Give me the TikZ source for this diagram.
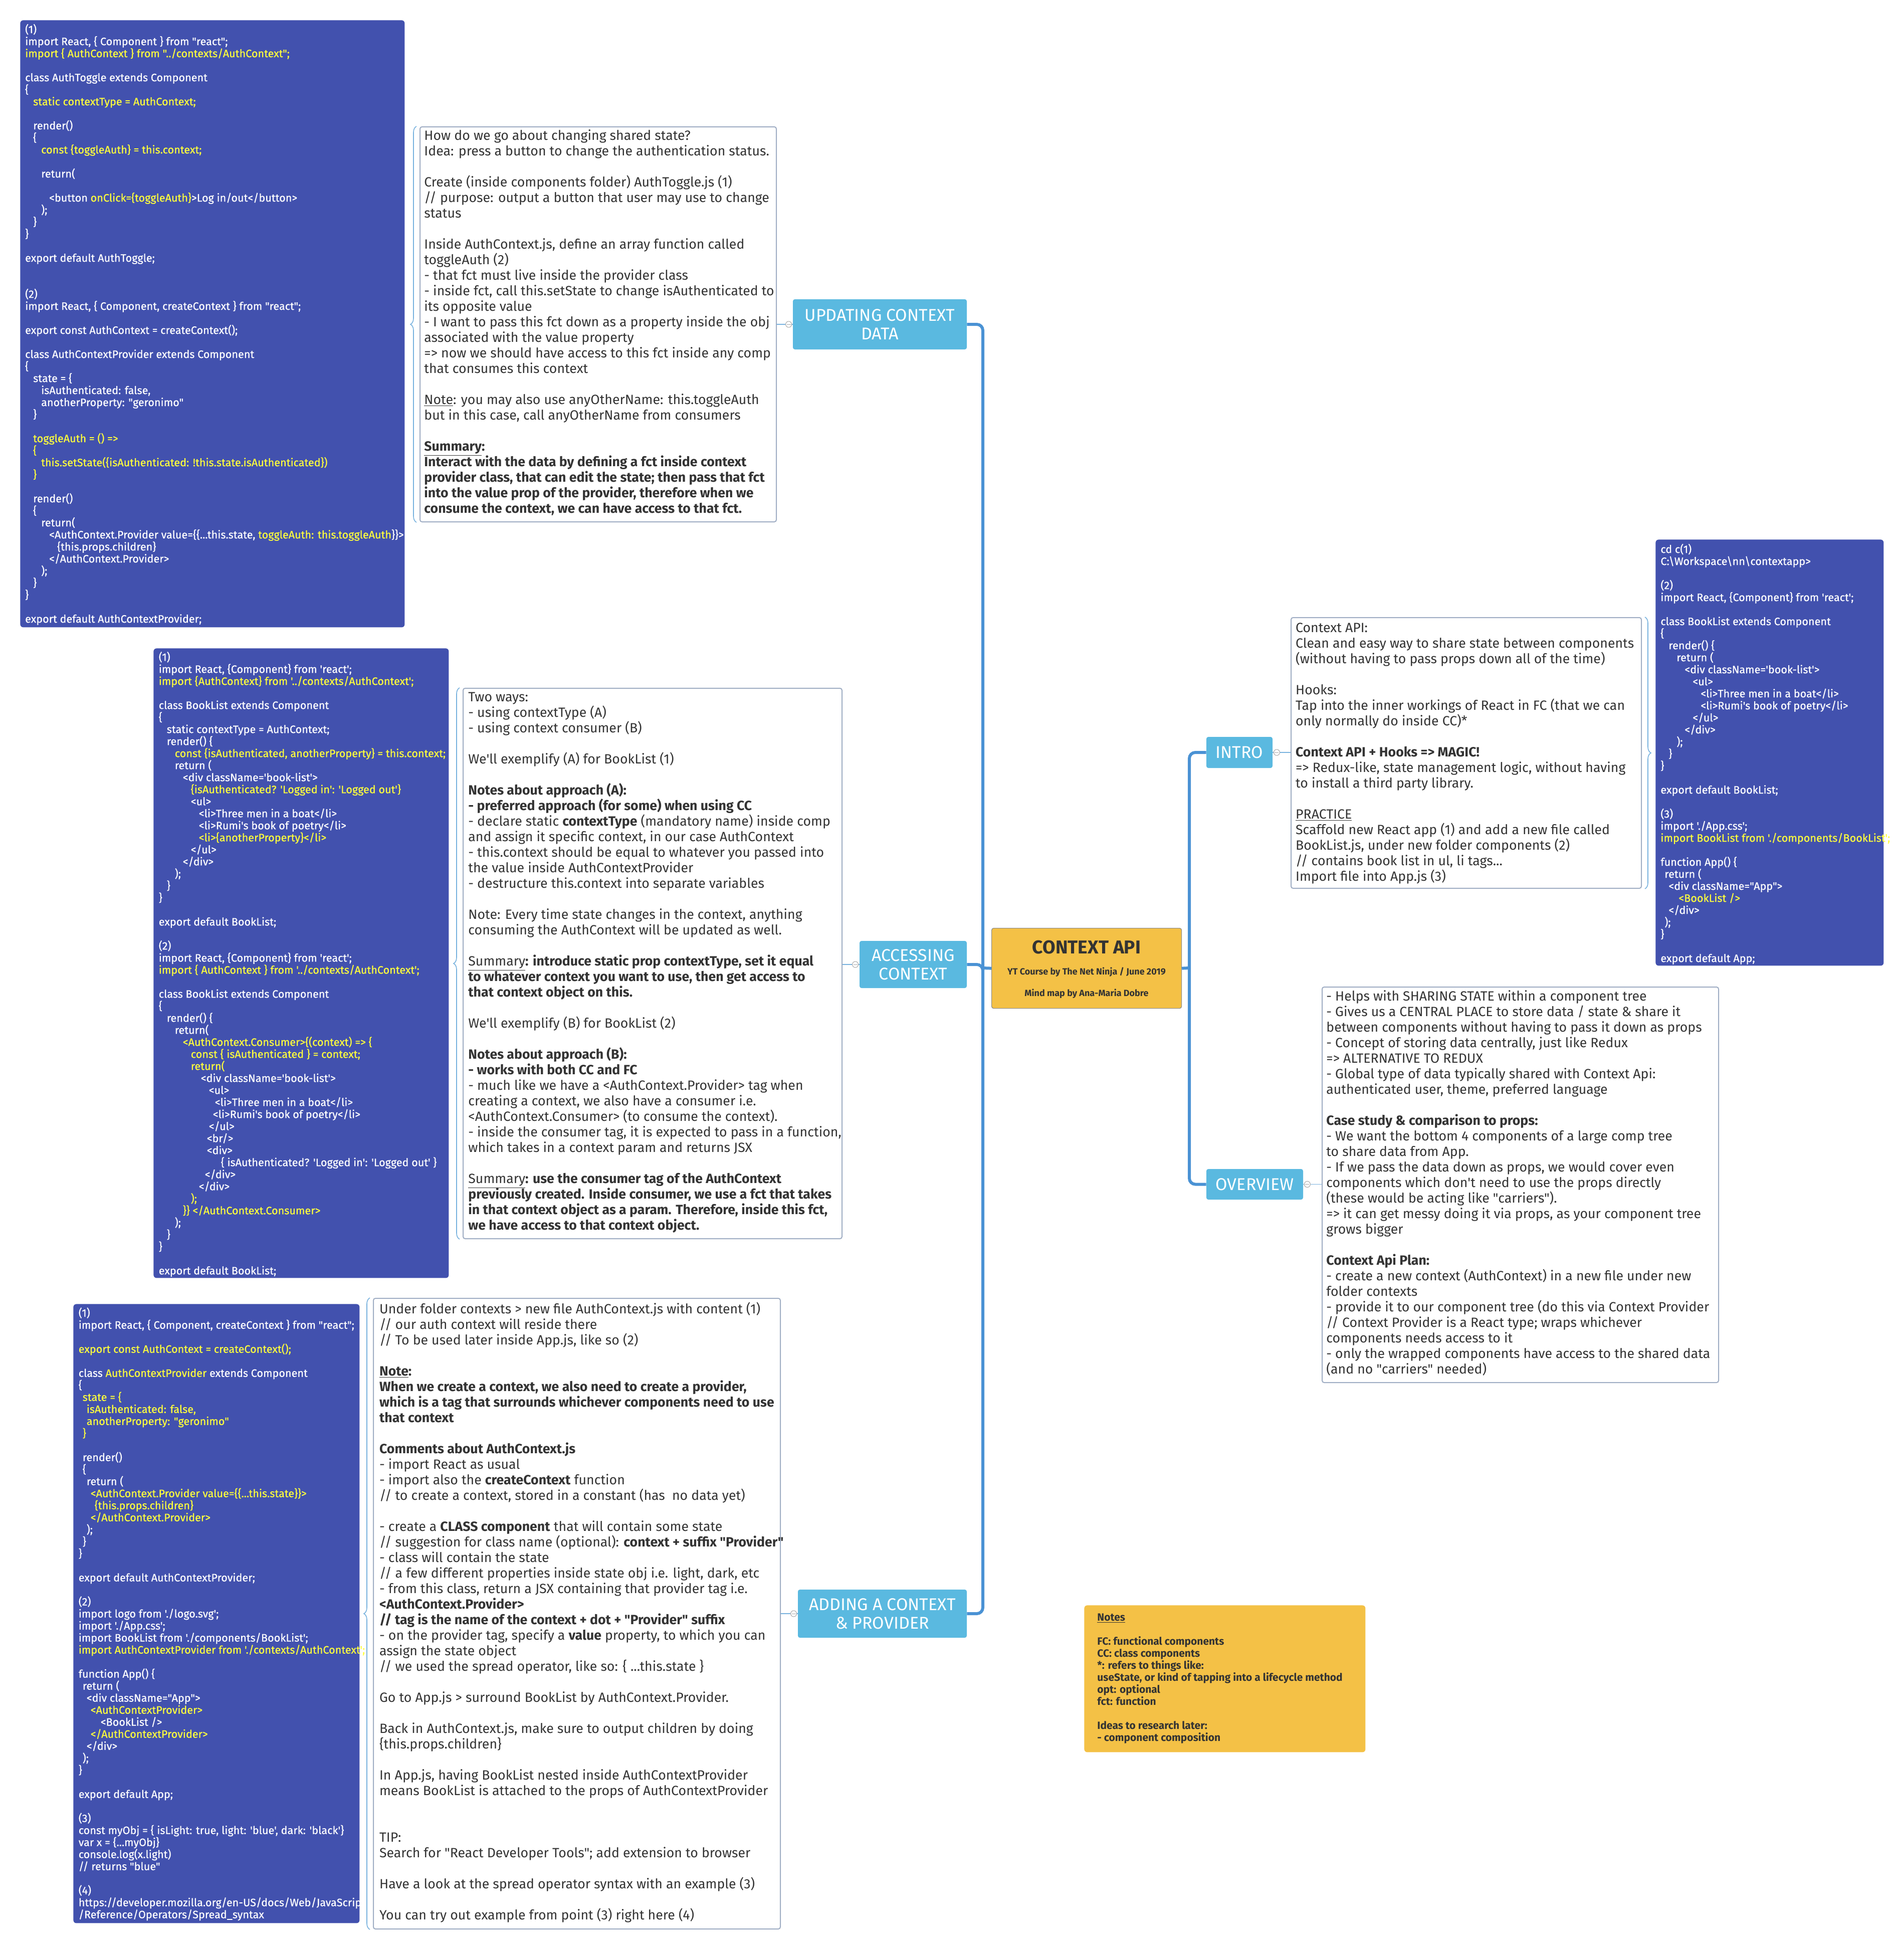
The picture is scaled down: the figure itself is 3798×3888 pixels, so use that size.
\documentclass[tikz,border=0pt]{standalone}
\usepackage{fontspec}
\setmainfont{Fira Sans}[Ligatures=TeXOff]
\newfontfamily\codefont{Fira Sans}[Ligatures=TeXOff, FakeBold=0.5]
\usetikzlibrary{calc,decorations.pathreplacing}

\definecolor{codebg}{RGB}{66,81,174}
\definecolor{codeyel}{RGB}{255,255,60}
\definecolor{topicbg}{RGB}{90,185,224}
\definecolor{trunkcol}{RGB}{74,146,212}
\definecolor{linkcol}{RGB}{120,178,222}
\definecolor{noteborder}{RGB}{160,174,196}
\definecolor{inkcol}{RGB}{51,51,51}
\definecolor{rootbg}{RGB}{244,193,70}
\definecolor{rootborder}{RGB}{140,140,140}

\newlength\pxu \setlength\pxu{0.5pt}
\newcommand\ind[1]{\hspace*{#1\pxu}}
\newcommand\yl[1]{\textcolor{codeyel}{#1}}
\newcommand\bl{\strut}
% keep every line exactly one baselineskip below the previous one
\newcommand\fixedlines{\lineskiplimit=-100pt\relax\lineskip=0pt\relax}
\fixedlines

\tikzset{
  codebox/.style={fill=codebg, rounded corners=3pt, inner sep=0pt, anchor=north west},
  codetext/.style={anchor=north west, inner sep=0pt, align=left, text=white,
    font={\codefont\fontsize{10.8}{12}\selectfont\fixedlines}},
  notebox/.style={draw=noteborder, line width=1pt, fill=white, rounded corners=2pt,
    inner sep=0pt, anchor=north west},
  notetext/.style={anchor=north west, inner sep=0pt, align=left, text=inkcol,
    font={\fontsize{13.35}{15.5}\selectfont\fixedlines}},
  topic/.style={fill=topicbg, rounded corners=2pt, inner sep=0pt, align=center,
    text=white, font={\fontsize{17}{18.5}\selectfont\fixedlines}},
  rootbox/.style={fill=rootbg, draw=rootborder, line width=0.6pt, rounded corners=2pt,
    inner sep=0pt, anchor=north west},
  roottext/.style={anchor=base, inner sep=0pt, text=inkcol},
  trunk/.style={draw=trunkcol, line width=3pt, rounded corners=6pt},
  link/.style={draw=linkcol, line width=0.8pt},
  knob/.style={circle, draw=gray!70, fill=white, line width=0.5pt, minimum size=6pt,
    inner sep=0pt, path picture={\draw[gray!70, line width=0.4pt]
      ([xshift=1pt]path picture bounding box.west) -- ([xshift=-1pt]path picture bounding box.east);}},
  bracket/.style={draw=linkcol, line width=0.8pt, decorate,
    decoration={brace, amplitude=6pt}},
}

\begin{document}
\begin{tikzpicture}[x=0.5pt,y=-0.5pt]
\fill[white] (0,0) rectangle (3798,3888);
\useasboundingbox (0,0) rectangle (3798,3888);

% ---------- root ----------
\node[rootbox, minimum width=379\pxu, minimum height=160\pxu] (root) at (1978,1851) {};
\node[roottext, font=\bfseries\fontsize{18.6}{20}\selectfont] (rootTitle) at (2168,1902) {CONTEXT API};
\node[roottext, font=\bfseries\fontsize{9}{11}\selectfont] (rootSub) at (2168,1944) {YT Course by The Net Ninja / June 2019};
\node[roottext, font=\bfseries\fontsize{9}{11}\selectfont] (rootBy) at (2168,1987) {Mind map by Ana-Maria Dobre};

% ---------- main topics ----------
\node[topic, minimum width=347\pxu, minimum height=100\pxu] (upd) at (1755.5,647) {UPDATING CONTEXT\\DATA};
\node[topic, minimum width=214\pxu, minimum height=94\pxu] (acc) at (1822,1924) {ACCESSING\\CONTEXT};
\node[topic, minimum width=337\pxu, minimum height=96\pxu] (add) at (1760.5,3219) {ADDING A CONTEXT\\\& PROVIDER};
\node[topic, minimum width=132\pxu, minimum height=62\pxu] (intro) at (2473,1501) {INTRO};
\node[topic, minimum width=193\pxu, minimum height=61\pxu] (over) at (2503.5,2362.5) {OVERVIEW};

% ---------- trunk ----------
\coordinate (trunkL) at (1961,1931);
\coordinate (trunkR) at (2373,1931);
\draw[trunk] (root.west) -- (trunkL);
\draw[trunk] (trunkL) |- (upd.east);
\draw[trunk] (trunkL) |- (acc.east);
\draw[trunk] (trunkL) |- (add.east);
\draw[trunk] (root.east) -- (trunkR);
\draw[trunk] (trunkR) |- (intro.west);
\draw[trunk] (trunkR) |- (over.west);

% ---------- note boxes ----------
\node[notebox, minimum width=711\pxu, minimum height=788\pxu] (updT) at (837,252) {};
\node[notebox, minimum width=756\pxu, minimum height=1098\pxu] (accT) at (923,1372) {};
\node[notebox, minimum width=812\pxu, minimum height=1258\pxu] (addT) at (744,2589) {};
\node[notebox, minimum width=699\pxu, minimum height=540\pxu] (introT) at (2575,1231) {};
\node[notebox, minimum width=791\pxu, minimum height=789\pxu] (overT) at (2637,1968) {};

% ---------- code boxes ----------
\node[codebox, minimum width=767\pxu, minimum height=1211\pxu] (updC) at (40,40) {};
\node[codebox, minimum width=589\pxu, minimum height=1256\pxu] (accC) at (306,1293) {};
\node[codebox, minimum width=571\pxu, minimum height=1235\pxu] (addC) at (146,2601) {};
\node[codebox, minimum width=455\pxu, minimum height=850\pxu] (introC) at (3303,1076) {};

% ---------- legend ----------
\node[fill=rootbg, rounded corners=3pt, inner sep=0pt, anchor=north west,
  minimum width=561\pxu, minimum height=293\pxu] (notes) at (2163,3202) {};

% ---------- topic-to-note links ----------
\draw[link] (upd.west) -- (upd.west -| updT.east);
\draw[link] (acc.west) -- (acc.west -| accT.east);
\draw[link] (add.west) -- (add.west -| addT.east);
\draw[link] (intro.east) -- (intro.east -| introT.west);
\draw[link] (over.east) -- (over.east -| overT.west);
\node[knob] (updK) at ($(upd.west)+(-8,0)$) {};
\node[knob] (accK) at ($(acc.west)+(-8,0)$) {};
\node[knob] (addK) at ($(add.west)+(-8,0)$) {};
\node[knob] (introK) at ($(intro.east)+(8,0)$) {};
\node[knob] (overK) at ($(over.east)+(8,0)$) {};

% ---------- braces to code ----------
\draw[bracket] ($(updT.south west)+(-6,0)$) -- ($(updT.north west)+(-6,0)$);
\draw[bracket] ($(accT.south west)+(-6,0)$) -- ($(accT.north west)+(-6,0)$);
\draw[bracket] ($(addT.south west)+(-6,0)$) -- ($(addT.north west)+(-6,0)$);
\draw[bracket] ($(introT.north east)+(6,0)$) -- ($(introT.south east)+(6,0)$);

% ---------- UPDATING CONTEXT DATA ----------
\node[notetext] (updTxt) at (846,257.5) {\bl How do we go about changing shared state?\\
Idea: press a button to change the authentication status.\\
\bl\\
Create (inside components folder) AuthToggle.js (1)\\
// purpose: output a button that user may use to change\\
status\\
\bl\\
Inside AuthContext.js, define an array function called\\
toggleAuth (2)\\
- that fct must live inside the provider class\\
- inside fct, call this.setState to change isAuthenticated to\\
its opposite value\\
- I want to pass this fct down as a property inside the obj\\
associated with the value property\\
=> now we should have access to this fct inside any comp\\
that consumes this context\\
\bl\\
\underline{Note}: you may also use anyOtherName: this.toggleAuth\\
but in this case, call anyOtherName from consumers\\
\bl\\
\textbf{\underline{Summary}:}\\
\textbf{Interact with the data by defining a fct inside context}\\
\textbf{provider class, that can edit the state; then pass that fct}\\
\textbf{into the value prop of the provider, therefore when we}\\
\textbf{consume the context, we can have access to that fct.}};

\node[codetext] (updCtxt) at (49.8,47.5) {\bl(1)\\
import React, \{ Component \} from "react";\\
\yl{import \{ AuthContext \} from "../contexts/AuthContext";}\\
\bl\\
class AuthToggle extends Component\\
\{\\
\ind{16}\yl{static contextType = AuthContext;}\\
\bl\\
\ind{16}render()\\
\ind{16}\{\\
\ind{32}\yl{const \{toggleAuth\} = this.context;}\\
\bl\\
\ind{32}return(\\
\bl\\
\ind{48}<button \yl{onClick=\{toggleAuth\}}>Log in/out</button>\\
\ind{32});\\
\ind{16}\}\\
\}\\
\bl\\
export default AuthToggle;\\
\bl\\
\bl\\
(2)\\
import React, \{ Component, createContext \} from "react";\\
\bl\\
export const AuthContext = createContext();\\
\bl\\
class AuthContextProvider extends Component\\
\{\\
\ind{16}state = \{\\
\ind{32}isAuthenticated: false,\\
\ind{32}anotherProperty: "geronimo"\\
\ind{16}\}\\
\bl\\
\ind{16}\yl{toggleAuth = () =>}\\
\ind{16}\yl{\{}\\
\ind{32}\yl{this.setState(\{isAuthenticated: !this.state.isAuthenticated\})}\\
\ind{16}\yl{\}}\\
\bl\\
\ind{16}render()\\
\ind{16}\{\\
\ind{32}return(\\
\ind{48}<AuthContext.Provider value=\{\{...this.state, \yl{toggleAuth: this.toggleAuth}\}\}>\\
\ind{64}\{this.props.children\}\\
\ind{48}</AuthContext.Provider>\\
\ind{32});\\
\ind{16}\}\\
\}\\
\bl\\
export default AuthContextProvider;};

% ---------- ACCESSING CONTEXT ----------
\node[notetext] (accTxt) at (934,1377.5) {\bl Two ways:\\
- using contextType (A)\\
- using context consumer (B)\\
\bl\\
We'll exemplify (A) for BookList (1)\\
\bl\\
\textbf{Notes about approach (A):}\\
\textbf{- preferred approach (for some) when using CC}\\
- declare static \textbf{contextType} (mandatory name) inside comp\\
and assign it specific context, in our case AuthContext\\
- this.context should be equal to whatever you passed into\\
the value inside AuthContextProvider\\
- destructure this.context into separate variables\\
\bl\\
Note: Every time state changes in the context, anything\\
consuming the AuthContext will be updated as well.\\
\bl\\
\underline{Summary}\textbf{: introduce static prop contextType, set it equal}\\
\textbf{to whatever context you want to use, then get access to}\\
\textbf{that context object on this.}\\
\bl\\
We'll exemplify (B) for BookList (2)\\
\bl\\
\textbf{Notes about approach (B):}\\
\textbf{- works with both CC and FC}\\
- much like we have a <AuthContext.Provider> tag when\\
creating a context, we also have a consumer i.e.\\
<AuthContext.Consumer> (to consume the context).\\
- inside the consumer tag, it is expected to pass in a function,\\
which takes in a context param and returns JSX\\
\bl\\
\underline{Summary}\textbf{: use the consumer tag of the AuthContext}\\
\textbf{previously created. Inside consumer, we use a fct that takes}\\
\textbf{in that context object as a param. Therefore, inside this fct,}\\
\textbf{we have access to that context object.}};

\node[codetext] (accCtxt) at (316.4,1299.7) {\bl(1)\\
import React, \{Component\} from 'react';\\
\yl{import \{AuthContext\} from '../contexts/AuthContext';}\\
\bl\\
class BookList extends Component\\
\{\\
\ind{16}static contextType = AuthContext;\\
\ind{16}render() \{\\
\ind{32}\yl{const \{isAuthenticated, anotherProperty\} = this.context;}\\
\ind{32}return (\\
\ind{48}<div className='book-list'>\\
\ind{64}\yl{\{isAuthenticated? 'Logged in': 'Logged out'\}}\\
\ind{64}<ul>\\
\ind{80}<li>Three men in a boat</li>\\
\ind{80}<li>Rumi's book of poetry</li>\\
\ind{80}\yl{<li>\{anotherProperty\}</li>}\\
\ind{64}</ul>\\
\ind{48}</div>\\
\ind{32});\\
\ind{16}\}\\
\}\\
\bl\\
export default BookList;\\
\bl\\
(2)\\
import React, \{Component\} from 'react';\\
\yl{import \{ AuthContext \} from '../contexts/AuthContext';}\\
\bl\\
class BookList extends Component\\
\{\\
\ind{16}render() \{\\
\ind{32}return(\\
\ind{48}\yl{<AuthContext.Consumer>\{(context) => \{}\\
\ind{64}\yl{const \{ isAuthenticated \} = context;}\\
\ind{64}\yl{return(}\\
\ind{84}<div className='book-list'>\\
\ind{100}<ul>\\
\ind{112}<li>Three men in a boat</li>\\
\ind{108}<li>Rumi's book of poetry</li>\\
\ind{100}</ul>\\
\ind{96}<br/>\\
\ind{96}<div>\\
\ind{124}\{ isAuthenticated? 'Logged in': 'Logged out' \}\\
\ind{92}</div>\\
\ind{80}</div>\\
\ind{64}\yl{);}\\
\ind{48}\yl{\}\} </AuthContext.Consumer>}\\
\ind{32});\\
\ind{16}\}\\
\}\\
\bl\\
export default BookList;};

% ---------- ADDING A CONTEXT & PROVIDER ----------
\node[notetext] (addTxt) at (756.7,2597) {\bl Under folder contexts > new file AuthContext.js with content (1)\\
// our auth context will reside there\\
// To be used later inside App.js, like so (2)\\
\bl\\
\textbf{\underline{Note}:}\\
\textbf{When we create a context, we also need to create a provider,}\\
\textbf{which is a tag that surrounds whichever components need to use}\\
\textbf{that context}\\
\bl\\
\textbf{Comments about AuthContext.js}\\
- import React as usual\\
- import also the \textbf{createContext} function\\
// to create a context, stored in a constant (has\ \ no data yet)\\
\bl\\
- create a \textbf{CLASS component} that will contain some state\\
// suggestion for class name (optional): \textbf{context + suffix "Provider"}\\
- class will contain the state\\
// a few different properties inside state obj i.e. light, dark, etc\\
- from this class, return a JSX containing that provider tag i.e.\\
\textbf{<AuthContext.Provider>}\\
\textbf{// tag is the name of the context + dot + "Provider" suffix}\\
- on the provider tag, specify a \textbf{value} property, to which you can\\
assign the state object\\
// we used the spread operator, like so: \{ ...this.state \}\\
\bl\\
Go to App.js > surround BookList by AuthContext.Provider.\\
\bl\\
Back in AuthContext.js, make sure to output children by doing\\
\{this.props.children\}\\
\bl\\
In App.js, having BookList nested inside AuthContextProvider\\
means BookList is attached to the props of AuthContextProvider\\
\bl\\
\bl\\
TIP:\\
Search for "React Developer Tools"; add extension to browser\\
\bl\\
Have a look at the spread operator syntax with an example (3)\\
\bl\\
You can try out example from point (3) right here (4)};

\node[codetext] (addCtxt) at (156.4,2608) {\bl(1)\\
import React, \{ Component, createContext \} from "react";\\
\bl\\
\yl{export const AuthContext = createContext();}\\
\bl\\
class \yl{AuthContextProvider} extends Component\\
\{\\
\ind{8}\yl{state = \{}\\
\ind{16}\yl{isAuthenticated: false,}\\
\ind{16}\yl{anotherProperty: "geronimo"}\\
\ind{8}\yl{\}}\\
\bl\\
\ind{8}render()\\
\ind{8}\{\\
\ind{16}return (\\
\ind{24}\yl{<AuthContext.Provider value=\{\{...this.state\}\}>}\\
\ind{32}\yl{\{this.props.children\}}\\
\ind{24}\yl{</AuthContext.Provider>}\\
\ind{16});\\
\ind{8}\}\\
\}\\
\bl\\
export default AuthContextProvider;\\
\bl\\
(2)\\
import logo from './logo.svg';\\
import './App.css';\\
import BookList from './components/BookList';\\
\yl{import AuthContextProvider from './contexts/AuthContext';}\\
\bl\\
function App() \{\\
\ind{8}return (\\
\ind{16}<div className="App">\\
\ind{24}\yl{<AuthContextProvider>}\\
\ind{44}<BookList />\\
\ind{24}\yl{</AuthContextProvider>}\\
\ind{16}</div>\\
\ind{8});\\
\}\\
\bl\\
export default App;\\
\bl\\
(3)\\
const myObj = \{ isLight: true, light: 'blue', dark: 'black'\}\\
var x = \{...myObj\}\\
console.log(x.light)\\
// returns "blue"\\
\bl\\
(4)\\
https://developer.mozilla.org/en-US/docs/Web/JavaScript\\
/Reference/Operators/Spread\_syntax};

% ---------- INTRO ----------
\node[notetext] (introTxt) at (2584.7,1239) {\bl Context API:\\
Clean and easy way to share state between components\\
(without having to pass props down all of the time)\\
\bl\\
Hooks:\\
Tap into the inner workings of React in FC (that we can\\
only normally do inside CC)*\\
\bl\\
\textbf{Context API + Hooks => MAGIC!}\\
=> Redux-like, state management logic, without having\\
to install a third party library.\\
\bl\\
\underline{PRACTICE}\\
Scaffold new React app (1) and add a new file called\\
BookList.js, under new folder components (2)\\
// contains book list in ul, li tags...\\
Import file into App.js (3)};

\node[codetext] (introCtxt) at (3313,1084.5) {\bl cd c(1)\\
C:\textbackslash Workspace\textbackslash nn\textbackslash contextapp>\\
\bl\\
(2)\\
import React, \{Component\} from 'react';\\
\bl\\
class BookList extends Component\\
\{\\
\ind{16}render() \{\\
\ind{32}return (\\
\ind{48}<div className='book-list'>\\
\ind{64}<ul>\\
\ind{80}<li>Three men in a boat</li>\\
\ind{80}<li>Rumi's book of poetry</li>\\
\ind{64}</ul>\\
\ind{48}</div>\\
\ind{32});\\
\ind{16}\}\\
\}\\
\bl\\
export default BookList;\\
\bl\\
(3)\\
import './App.css';\\
\yl{import BookList from './components/BookList';}\\
\bl\\
function App() \{\\
\ind{8}return (\\
\ind{16}<div className="App">\\
\ind{36}\yl{<BookList />}\\
\ind{16}</div>\\
\ind{8});\\
\}\\
\bl\\
export default App;};

% ---------- OVERVIEW ----------
\node[notetext] (overTxt) at (2646,1974.7) {\bl - Helps with SHARING STATE within a component tree\\
- Gives us a CENTRAL PLACE to store data / state \& share it\\
between components without having to pass it down as props\\
- Concept of storing data centrally, just like Redux\\
=> ALTERNATIVE TO REDUX\\
- Global type of data typically shared with Context Api:\\
authenticated user, theme, preferred language\\
\bl\\
\textbf{Case study \& comparison to props:}\\
- We want the bottom 4 components of a large comp tree\\
to share data from App.\\
- If we pass the data down as props, we would cover even\\
components which don't need to use the props directly\\
(these would be acting like "carriers").\\
=> it can get messy doing it via props, as your component tree\\
grows bigger\\
\bl\\
\textbf{Context Api Plan:}\\
- create a new context (AuthContext) in a new file under new\\
folder contexts\\
- provide it to our component tree (do this via Context Provider\\
// Context Provider is a React type; wraps whichever\\
components needs access to it\\
- only the wrapped components have access to the shared data\\
(and no "carriers" needed)};

% ---------- legend text ----------
\node[anchor=north west, inner sep=0pt, align=left, text=inkcol,
  font={\bfseries\fontsize{10.5}{12}\selectfont\fixedlines}] (notesTxt) at (2189,3216) {\bl\underline{Notes}\\
\bl\\
FC: functional components\\
CC: class components\\
*: refers to things like:\\
useState, or kind of tapping into a lifecycle method\\
opt: optional\\
fct: function\\
\bl\\
Ideas to research later:\\
- component composition};

\end{tikzpicture}
\end{document}
